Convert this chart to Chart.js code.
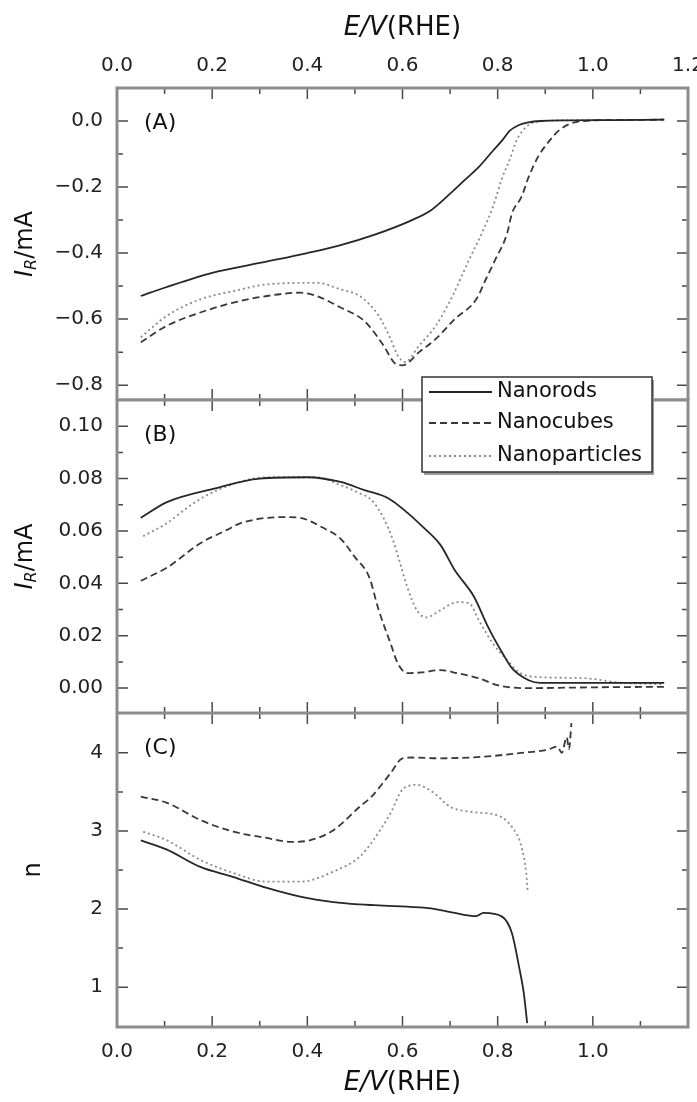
<!DOCTYPE html>
<html>
<head>
<meta charset="utf-8">
<script src="https://cdn.jsdelivr.net/npm/chart.js@4.4.1/dist/chart.umd.min.js"></script>
<style>
  body { margin: 0; background: #fff; }
  #wrap { position: relative; width: 697px; height: 1102px; background: #fff; }
  #wrap canvas { position: absolute; left: 0; }
</style>
</head>
<body>
<div id="wrap">
  <canvas id="panelA" width="697" height="400" style="top:0px"></canvas>
  <canvas id="panelB" width="697" height="353" style="top:360px"></canvas>
  <canvas id="panelC" width="697" height="389" style="top:713px"></canvas>
</div>
<script>
// ---- data ----
const seriesNames = ['Nanorods', 'Nanocubes', 'Nanoparticles'];

const xMajor = [0, 0.2, 0.4, 0.6, 0.8, 1.0, 1.2];
const xMinor = [0.1, 0.3, 0.5, 0.7, 0.9, 1.1];
const xLabelsTop = [0, 0.2, 0.4, 0.6, 0.8, 1.0, 1.2];
const xLabelsBottom = [0, 0.2, 0.4, 0.6, 0.8, 1.0];

const yMajorA = [0.0, -0.2, -0.4, -0.6, -0.8];
const yMinorA = [-0.1, -0.3, -0.5, -0.7];
const yMajorB = [0.00, 0.02, 0.04, 0.06, 0.08, 0.10];
const yMinorB = [0.01, 0.03, 0.05, 0.07, 0.09];
const yMajorC = [1, 2, 3, 4];
const yMinorC = [1.5, 2.5, 3.5];

// (A) ring current
const rodsA_E = [0.05, 0.1, 0.2, 0.3, 0.4, 0.47, 0.54, 0.62, 0.66, 0.70, 0.73, 0.76, 0.79, 0.81, 0.825, 0.845, 0.865, 0.89, 0.95, 1.05, 1.15];
const rodsA_I = [-0.53, -0.505, -0.46, -0.43, -0.40, -0.376, -0.345, -0.30, -0.27, -0.22, -0.18, -0.14, -0.09, -0.058, -0.03, -0.012, -0.004, 0.0, 0.002, 0.003, 0.004];
const cubesA_E = [0.05, 0.105, 0.175, 0.245, 0.315, 0.385, 0.42, 0.47, 0.515, 0.535, 0.56, 0.585, 0.6, 0.635, 0.67, 0.71, 0.755, 0.775, 0.795, 0.82, 0.83, 0.85, 0.865, 0.885, 0.91, 0.93, 0.955, 0.98, 1.05, 1.15];
const cubesA_I = [-0.67, -0.62, -0.58, -0.55, -0.53, -0.52, -0.53, -0.565, -0.60, -0.63, -0.68, -0.735, -0.74, -0.70, -0.66, -0.60, -0.54, -0.48, -0.42, -0.34, -0.28, -0.23, -0.17, -0.108, -0.058, -0.027, -0.007, 0.0, 0.003, 0.004];
const partsA_E = [0.05, 0.105, 0.175, 0.245, 0.315, 0.42, 0.47, 0.51, 0.55, 0.575, 0.59, 0.605, 0.635, 0.67, 0.705, 0.74, 0.77, 0.79, 0.81, 0.825, 0.84, 0.86, 0.88, 0.95, 1.05, 1.15];
const partsA_I = [-0.655, -0.59, -0.54, -0.515, -0.495, -0.49, -0.51, -0.53, -0.59, -0.66, -0.71, -0.73, -0.68, -0.62, -0.53, -0.42, -0.33, -0.26, -0.17, -0.118, -0.058, -0.018, -0.003, 0.002, 0.003, 0.004];

// (B) ring current
const rodsB_E = [0.05, 0.105, 0.2, 0.3, 0.4, 0.47, 0.52, 0.57, 0.61, 0.64, 0.68, 0.71, 0.75, 0.78, 0.81, 0.83, 0.865, 0.89, 1.0, 1.15];
const rodsB_I = [0.065, 0.071, 0.076, 0.080, 0.0805, 0.0787, 0.0756, 0.0725, 0.067, 0.062, 0.0546, 0.045, 0.035, 0.0233, 0.0134, 0.0076, 0.003, 0.002, 0.002, 0.002];
const cubesB_E = [0.05, 0.105, 0.175, 0.23, 0.26, 0.35, 0.385, 0.43, 0.47, 0.5, 0.53, 0.55, 0.575, 0.59, 0.61, 0.64, 0.68, 0.715, 0.76, 0.8, 0.86, 1.0, 1.15];
const cubesB_I = [0.041, 0.046, 0.0553, 0.0603, 0.063, 0.0653, 0.065, 0.0615, 0.057, 0.050, 0.0424, 0.0298, 0.017, 0.0095, 0.0057, 0.006, 0.0069, 0.0057, 0.0038, 0.0011, 0.0, 0.0003, 0.0005];
const partsB_E = [0.055, 0.105, 0.16, 0.21, 0.315, 0.42, 0.47, 0.51, 0.535, 0.56, 0.58, 0.595, 0.61, 0.63, 0.65, 0.68, 0.715, 0.74, 0.76, 0.79, 0.82, 0.845, 0.89, 0.98, 1.06, 1.15];
const partsB_I = [0.058, 0.063, 0.0705, 0.0755, 0.0805, 0.0805, 0.0775, 0.0744, 0.0718, 0.065, 0.0565, 0.0477, 0.0386, 0.0298, 0.027, 0.0298, 0.0328, 0.0324, 0.026, 0.017, 0.0107, 0.006, 0.0042, 0.0038, 0.002, 0.0015];

// (C) electrons transferred
const rodsC_E = [0.05, 0.105, 0.175, 0.245, 0.315, 0.385, 0.455, 0.51, 0.54, 0.61, 0.66, 0.71, 0.755, 0.77, 0.81, 0.83, 0.845, 0.855, 0.862];
const rodsC_n = [2.88, 2.76, 2.54, 2.41, 2.27, 2.16, 2.09, 2.06, 2.05, 2.03, 2.01, 1.95, 1.91, 1.95, 1.90, 1.69, 1.26, 0.92, 0.54];
const cubesC_E = [0.05, 0.105, 0.175, 0.245, 0.315, 0.365, 0.405, 0.455, 0.51, 0.535, 0.575, 0.6, 0.62, 0.68, 0.77, 0.85, 0.905, 0.925, 0.935, 0.945, 0.95, 0.955];
const cubesC_n = [3.44, 3.36, 3.14, 2.99, 2.91, 2.86, 2.88, 3.01, 3.31, 3.44, 3.74, 3.93, 3.94, 3.93, 3.95, 4.0, 4.04, 4.08, 4.0, 4.2, 4.05, 4.38];
const partsC_E = [0.055, 0.105, 0.175, 0.245, 0.315, 0.385, 0.455, 0.51, 0.535, 0.575, 0.6, 0.63, 0.665, 0.7, 0.75, 0.8, 0.83, 0.85, 0.86, 0.863];
const partsC_n = [2.99, 2.88, 2.63, 2.46, 2.35, 2.35, 2.48, 2.67, 2.85, 3.23, 3.53, 3.59, 3.49, 3.31, 3.24, 3.20, 3.05, 2.80, 2.46, 2.24];

// ---- look ----
const FONT = 'DejaVu Sans';
const lineStyle = {
  Nanorods:      { color: '#262626', dash: [] },
  Nanocubes:     { color: '#383838', dash: [7, 4] },
  Nanoparticles: { color: '#8a8a8a', dash: [2, 3] }
};

function pts(xs, ys) {
  return xs.map((x, i) => ({ x: x, y: ys[i] }));
}

function fixedTicks(values) {
  return (s) => { s.ticks = values.map(v => ({ value: v })); };
}

// text with mixed italic/upright parts, centred on (0,0) of current transform
function richText(ctx, parts) {
  let w = 0;
  parts.forEach(p => { ctx.font = p.font; p.w = ctx.measureText(p.t).width; w += p.w; });
  let x = -w / 2;
  ctx.textAlign = 'left';
  ctx.textBaseline = 'middle';
  parts.forEach(p => {
    ctx.font = p.font;
    ctx.fillText(p.t, x, p.dy || 0);
    x += p.w;
  });
}

const decor = {
  id: 'decor',
  afterDatasetsDraw(chart, args, o) {
    const ctx = chart.ctx, a = chart.chartArea;
    const xs = chart.scales.x, ys = chart.scales.y;
    ctx.save();
    ctx.strokeStyle = '#4a4a4a';
    ctx.lineWidth = 1.5;
    ctx.beginPath();
    xMajor.concat(xMinor).forEach(v => {
      const px = xs.getPixelForValue(v);
      if (px <= a.left + 1 || px >= a.right - 1) return;
      const len = xMajor.includes(v) ? 11 : 6;
      ctx.moveTo(px, a.top); ctx.lineTo(px, a.top + len);
      ctx.moveTo(px, a.bottom); ctx.lineTo(px, a.bottom - len);
    });
    o.yMajor.concat(o.yMinor).forEach(v => {
      const py = ys.getPixelForValue(v);
      const len = o.yMajor.includes(v) ? 11 : 6;
      ctx.moveTo(a.left, py); ctx.lineTo(a.left + len, py);
      ctx.moveTo(a.right, py); ctx.lineTo(a.right - len, py);
    });
    ctx.stroke();

    ctx.strokeStyle = '#8c8c8c';
    ctx.lineWidth = 3;
    ctx.strokeRect(a.left, a.top, a.right - a.left, a.bottom - a.top);

    ctx.fillStyle = '#111';
    ctx.font = '22px "' + FONT + '"';
    ctx.textAlign = 'left';
    ctx.textBaseline = 'middle';
    ctx.fillText(o.tag, a.left + 27, a.top + 35);

    // y title
    ctx.save();
    ctx.translate(o.yTitleX, (a.top + a.bottom) / 2);
    ctx.rotate(-Math.PI / 2);
    richText(ctx, o.yTitle);
    ctx.restore();

    // x title
    if (o.xTitleY !== null) {
      ctx.save();
      ctx.translate((a.left + a.right) / 2, o.xTitleY(a));
      richText(ctx, [
        { t: 'E/V', font: 'italic 26px "' + FONT + '"' },
        { t: '(RHE)', font: '26px "' + FONT + '"' }
      ]);
      ctx.restore();
    }
    ctx.restore();
  },
  afterDraw(chart, args, o) {
    if (!o.legend) return;
    const ctx = chart.ctx, a = chart.chartArea;
    const left = a.left + 305, top = a.top - 23, w = 230, h = 95;
    ctx.save();
    ctx.fillStyle = '#9a9a9a';
    ctx.fillRect(left + 2, top + 3, w, h);
    ctx.fillStyle = '#fff';
    ctx.fillRect(left, top, w, h);
    ctx.strokeStyle = '#333';
    ctx.lineWidth = 1.5;
    ctx.strokeRect(left, top, w, h);
    const rowY = [15, 46, 79];
    chart.data.datasets.forEach((ds, i) => {
      const y = top + rowY[i];
      ctx.strokeStyle = ds.borderColor;
      ctx.lineWidth = 2;
      ctx.setLineDash(ds.borderDash);
      ctx.beginPath();
      ctx.moveTo(left + 7, y);
      ctx.lineTo(left + 70, y);
      ctx.stroke();
      ctx.setLineDash([]);
      ctx.fillStyle = '#111';
      ctx.font = '21px "' + FONT + '"';
      ctx.textAlign = 'left';
      ctx.textBaseline = 'middle';
      ctx.fillText(ds.label, left + 75, y);
    });
    ctx.restore();
  }
};

function makePanel(id, p) {
  const datasets = p.series.map((s, i) => ({
    label: seriesNames[i],
    data: pts(s[0], s[1]),
    borderColor: lineStyle[seriesNames[i]].color,
    borderDash: lineStyle[seriesNames[i]].dash,
    borderWidth: 1.8,
    pointRadius: 0,
    fill: false,
    cubicInterpolationMode: 'monotone'
  }));

  const tickFont = { family: FONT, size: 20 };
  return new Chart(document.getElementById(id), {
    type: 'line',
    data: { datasets: datasets },
    options: {
      responsive: false,
      animation: false,
      events: [],
      layout: { padding: { top: p.padTop, right: 9, bottom: 0, left: 0 } },
      plugins: {
        legend: { display: false },
        tooltip: { enabled: false },
        decor: {
          tag: p.tag, yMajor: p.yMajor, yMinor: p.yMinor,
          yTitle: p.yTitle, yTitleX: p.yTitleX,
          xTitleY: p.xTitleY, legend: p.legend
        }
      },
      scales: {
        x: {
          type: 'linear',
          display: p.xPos !== null,
          position: p.xPos || 'bottom',
          min: 0, max: 1.2,
          grid: { display: false, drawTicks: false },
          border: { display: false },
          afterBuildTicks: fixedTicks(p.xLabels || xLabelsTop),
          afterFit: (s) => { s.height = p.xHeight; s.paddingLeft = 0; s.paddingRight = 0; },
          ticks: {
            font: tickFont, color: '#222', padding: p.xPad,
            autoSkip: false, maxRotation: 0,
            callback: (v) => Number(v).toFixed(1)
          }
        },
        y: {
          type: 'linear',
          min: p.yMin, max: p.yMax,
          grid: { display: false, drawTicks: false },
          border: { display: false },
          afterBuildTicks: fixedTicks(p.yMajor),
          afterFit: (s) => { s.width = 117; s.paddingTop = 0; s.paddingBottom = 0; },
          ticks: {
            font: tickFont, color: '#222', padding: 14,
            autoSkip: false,
            callback: p.yFormat
          }
        }
      }
    },
    plugins: [decor]
  });
}

const irTitle = [
  { t: 'I', font: 'italic 24px "' + FONT + '"' },
  { t: 'R', font: 'italic 16px "' + FONT + '"', dy: 6 },
  { t: '/mA', font: '24px "' + FONT + '"' }
];

makePanel('panelA', {
  tag: '(A)',
  series: [[rodsA_E, rodsA_I], [cubesA_E, cubesA_I], [partsA_E, partsA_I]],
  yMin: -0.845, yMax: 0.1, yMajor: yMajorA, yMinor: yMinorA,
  yFormat: (v) => (v < -1e-9 ? '\u2212' : '') + Math.abs(v).toFixed(1),
  yTitle: irTitle, yTitleX: 26,
  xPos: 'top', xHeight: 88, xPad: 10, xLabels: xLabelsTop,
  xTitleY: (a) => a.top - 60,
  padTop: 0, legend: false
});

makePanel('panelB', {
  tag: '(B)',
  series: [[rodsB_E, rodsB_I], [cubesB_E, cubesB_I], [partsB_E, partsB_I]],
  yMin: -0.0095, yMax: 0.110, yMajor: yMajorB, yMinor: yMinorB,
  yFormat: (v) => Math.abs(v).toFixed(2),
  yTitle: irTitle, yTitleX: 26,
  xPos: null, xHeight: 0, xPad: 0,
  xTitleY: null,
  padTop: 40, legend: true
});

makePanel('panelC', {
  tag: '(C)',
  series: [[rodsC_E, rodsC_n], [cubesC_E, cubesC_n], [partsC_E, partsC_n]],
  yMin: 0.49, yMax: 4.51, yMajor: yMajorC, yMinor: yMinorC,
  yFormat: (v) => String(v),
  yTitle: [{ t: 'n', font: '24px "' + FONT + '"' }], yTitleX: 34,
  xPos: 'bottom', xHeight: 75, xPad: 13, xLabels: xLabelsBottom,
  xTitleY: (a) => a.bottom + 56,
  padTop: 0, legend: false
});
</script>
</body>
</html>
